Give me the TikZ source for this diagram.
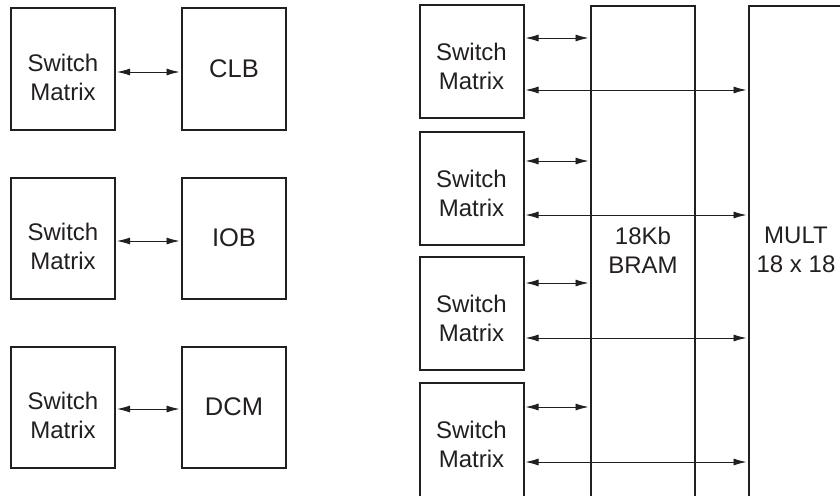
\documentclass[tikz,border=0pt]{standalone}
\usepackage{fontspec}
\setmainfont{Liberation Sans}
\usetikzlibrary{arrows.meta,positioning}
\definecolor{ink}{HTML}{231F20}

\begin{document}
\begin{tikzpicture}[x=1pt,y=-1pt,
  every node/.style={font=\fontsize{24}{29}\selectfont,align=center,text=ink},
  blk/.style={draw=ink,line width=2pt,minimum width=104pt,inner sep=0pt},
  smbox/.style={blk,minimum height=121pt},
  unitbox/.style={smbox,font=\fontsize{25.5}{30}\selectfont},
  rsbox/.style={blk,minimum height=113pt},
  colbox/.style={blk,minimum height=520pt,anchor=north west},
  link/.style={{Latex[length=13pt,width=7pt]}-{Latex[length=13pt,width=7pt]},line width=0.9pt,draw=ink,shorten <=1pt,shorten >=1.5pt}]
\useasboundingbox (0,0) rectangle (840,495);
\clip (0,0) rectangle (840,495);

% left: switch matrix next to a block
\node[smbox] (sm1) at (63,69) {};
\node[smbox] (sm2) at (63,238) {};
\node[smbox] (sm3) at (63,407) {};
\node (sm1-txt) at ([yshift=-8pt]sm1.center) {Switch\\Matrix};
\node (sm2-txt) at ([yshift=-8pt]sm2.center) {Switch\\Matrix};
\node (sm3-txt) at ([yshift=-8pt]sm3.center) {Switch\\Matrix};
\node[unitbox] (clb) at (234,69) {CLB};
\node[unitbox] (iob) at (234,238) {IOB};
\node[unitbox] (dcm) at (234,407) {DCM};
\draw[link] ([yshift=-3pt]sm1.east)--([yshift=-3pt]clb.west);
\draw[link] ([yshift=-3pt]sm2.east)--([yshift=-3pt]iob.west);
\draw[link] ([yshift=-2pt]sm3.east)--([yshift=-2pt]dcm.west);

% right: switch matrices beside BRAM and MULT columns
\node[colbox] (bram) at (590,5) {};
\node[colbox] (mult) at (748,5) {};
\node (bram-txt) at (bram.north |- 0,250) {18Kb\\BRAM};
\node (mult-txt) at (796,250) {MULT\\18 x 18};
\node[rsbox] (rs1) at (471.5,61.5) {};
\node[rsbox] (rs2) at (471.5,188.5) {};
\node[rsbox] (rs3) at (471.5,313.5) {};
\node[rsbox,minimum height=124pt] (rs4) at (471.5,445) {};
\node (rs1-txt) at ([yshift=-5pt]rs1.center) {Switch\\Matrix};
\node (rs2-txt) at ([yshift=-5pt]rs2.center) {Switch\\Matrix};
\node (rs3-txt) at ([yshift=-5pt]rs3.center) {Switch\\Matrix};
\node (rs4-txt) at ([yshift=0.5pt]rs4.center) {Switch\\Matrix};
\draw[link] (rs1.east |- 0,38)--(bram.west |- 0,38);
\draw[link] (rs1.east |- 0,90)--(mult.west |- 0,90);
\draw[link] (rs2.east |- 0,161)--(bram.west |- 0,161);
\draw[link] (rs2.east |- 0,215)--(mult.west |- 0,215);
\draw[link] (rs3.east |- 0,283)--(bram.west |- 0,283);
\draw[link] (rs3.east |- 0,338)--(mult.west |- 0,338);
\draw[link] (rs4.east |- 0,407)--(bram.west |- 0,407);
\draw[link] (rs4.east |- 0,462)--(mult.west |- 0,462);
\end{tikzpicture}
\end{document}
